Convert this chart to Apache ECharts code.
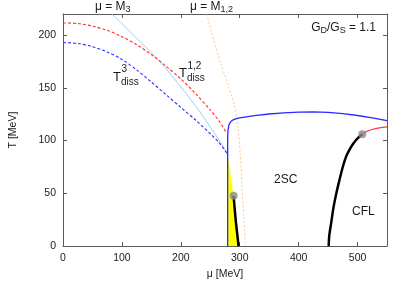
<!DOCTYPE html>
<html>
<head>
<meta charset="utf-8">
<script src="https://cdn.jsdelivr.net/npm/echarts@6/dist/echarts.min.js"></script>
<style>html,body{margin:0;padding:0;background:#fff;}#c{width:407px;height:285px;}</style>
</head>
<body>
<div id="c"></div>
<script>
// ---- data (mu [MeV], T [MeV]) ----
const xTicks = [0, 100, 200, 300, 400, 500];
const yTicks = [0, 50, 100, 150, 200];

const tDiss12 = [[0,211.5],[25,211],[50,208.5],[75,204.5],[100,198.5],[125,191],[150,181.5],[175,170.5],[200,158.5],[225,144.5],[250,129],[265,118.5],[278,107]];
const tDiss3 = [[0,193],[25,192],[50,189],[75,184],[100,177],[125,167],[150,155.5],[175,143.5],[200,131.5],[225,119.5],[250,106.5],[265,98],[279.5,87]];
const muM3 = [[83,220],[100,211],[125,197],[150,183.5],[175,168],[200,151],[225,133],[250,113],[265,100.5],[279.5,87]];
const muM12 = [[244,220],[256,195],[268,173],[280,153],[290,135],[297,113],[301,85],[304,55],[307,28],[309.5,0]];
const boundary2SC = [[279.5,0],[279.5,60],[279.5,100],[279.7,106],[280.2,110],[281.5,114.5],[284,117.5],[288,119.5],[294,120.8],[300,121.5],[325,123.6],[350,125.2],[375,126.3],[400,127],[425,127.3],[450,126.8],[475,125.6],[500,123.8],[525,121.6],[550,119]];
const redSolid = [[508,106],[515,108.5],[525,110.5],[537,112],[550,113]];
const cflLine = [[451,0],[452,10],[455,21],[459,36],[464,50],[469,62],[473,71],[477,79],[481,85.5],[486,91],[492,96.5],[499,101.5],[508,106]];
const smallBlack = [[289.6,47.7],[291.5,35],[294,20],[296.5,8],[298,0]];
const yellowPoly = [[279.5,0],[279.5,86],[282,78],[285,66],[289.6,47.7],[291.5,35],[294,20],[296.5,8],[298,0]];
const criticalPts = [[289.6,47.7],[508,106]];

const FONT = 'Liberation Sans, Arial, Helvetica, sans-serif';
const TXT = '#1a1a1a';
const AX = '#5a5a5a';

const chart = echarts.init(document.getElementById('c'), null, {renderer: 'canvas'});

function axisCommon(showLabel, ticks) {
  return {
    type: 'value',
    axisLine: {show: true, onZero: false, lineStyle: {color: AX, width: 1}},
    axisTick: {show: true, inside: true, length: 4, lineStyle: {color: AX, width: 1}},
    splitLine: {show: false},
    axisLabel: {
      show: showLabel, color: TXT, fontSize: 10.5, fontFamily: FONT, margin: 7,
      showMaxLabel: false,
      formatter: v => ticks.indexOf(v) >= 0 ? String(v) : ''
    }
  };
}

const line = (data, color, width, type, z) => ({
  type: 'line', data, showSymbol: false, symbol: 'none', smooth: 0.3, z: z,
  lineStyle: {color, width, type}, silent: true, animation: false,
  xAxisIndex: 0, yAxisIndex: 0
});

function rt(size) { return {fontSize: size, fontFamily: FONT, fill: TXT}; }

const option = {
  backgroundColor: '#fff',
  animation: false,
  grid: {left: 60, right: 20, top: 14, bottom: 36, containLabel: false},
  xAxis: [
    Object.assign(axisCommon(true, xTicks), {min: 0, max: 550, interval: 100, position: 'bottom',
      name: 'μ [MeV]', nameLocation: 'middle', nameGap: 22,
      nameTextStyle: {color: TXT, fontSize: 10.5, fontFamily: FONT}}),
    Object.assign(axisCommon(false, xTicks), {min: 0, max: 550, interval: 100, position: 'top'})
  ],
  yAxis: [
    Object.assign(axisCommon(true, yTicks), {min: 0, max: 220, interval: 50, position: 'left',
      name: 'T [MeV]', nameLocation: 'middle', nameGap: 44, nameRotate: 90,
      nameTextStyle: {color: TXT, fontSize: 10.5, fontFamily: FONT}}),
    Object.assign(axisCommon(false, yTicks), {min: 0, max: 220, interval: 50, position: 'right'})
  ],
  series: [
    {
      type: 'custom', z: 1, silent: true, xAxisIndex: 0, yAxisIndex: 0,
      data: [0],
      renderItem: function (params, api) {
        const pts = yellowPoly.map(p => api.coord(p));
        return {type: 'polygon', shape: {points: pts}, style: {fill: '#ffff00', stroke: null}};
      }
    },
    line(muM12, '#ffb870', 0.8, [2, 2], 2),
    line(muM3, '#8ccaf5', 0.9, 'solid', 3),
    line(tDiss12, '#ff3030', 1.1, [3, 2], 4),
    line(tDiss3, '#3030ff', 1.1, [3, 2], 4),
    Object.assign(line(boundary2SC, '#2a2aff', 1.3, 'solid', 5), {smooth: false}),
    line(redSolid, '#ff3a3a', 1.2, 'solid', 5),
    line(cflLine, '#000000', 2.5, 'solid', 6),
    line(smallBlack, '#000000', 2.5, 'solid', 6),
    {
      type: 'scatter', data: criticalPts, symbol: 'circle', symbolSize: 8, z: 7,
      itemStyle: {color: '#8a8a8a'}, silent: true, xAxisIndex: 0, yAxisIndex: 0
    }
  ],
  graphic: [
    {type: 'text', x: 95, y: 7, z: 100, style: {text: '{b|μ = M}{s|3}', verticalAlign: 'middle', align: 'left',
      rich: {b: Object.assign(rt(12), {lineHeight: 15}), s: Object.assign(rt(9), {verticalAlign: 'bottom'})}}},
    {type: 'text', x: 190, y: 7, z: 100, style: {text: '{b|μ = M}{s|1,2}', verticalAlign: 'middle', align: 'left',
      rich: {b: Object.assign(rt(12), {lineHeight: 15}), s: Object.assign(rt(9), {verticalAlign: 'bottom'})}}},
    {type: 'text', x: 376, y: 28, z: 100, style: {text: '{b|G}{s|D}{b|/G}{s|S}{b| = 1.1}', verticalAlign: 'middle', align: 'right',
      rich: {b: Object.assign(rt(12), {lineHeight: 15}), s: Object.assign(rt(9), {verticalAlign: 'bottom'})}}},
    // T^3_diss
    {type: 'text', x: 113, y: 77, z: 100, style: Object.assign(rt(13), {text: 'T', verticalAlign: 'middle', align: 'left'})},
    {type: 'text', x: 121.5, y: 69.5, z: 100, style: Object.assign(rt(10), {text: '3', verticalAlign: 'middle', align: 'left'})},
    {type: 'text', x: 121, y: 82.5, z: 100, style: Object.assign(rt(10), {text: 'diss', verticalAlign: 'middle', align: 'left'})},
    // T^{1,2}_diss
    {type: 'text', x: 179, y: 73, z: 100, style: Object.assign(rt(13), {text: 'T', verticalAlign: 'middle', align: 'left'})},
    {type: 'text', x: 187.5, y: 66.5, z: 100, style: Object.assign(rt(10), {text: '1,2', verticalAlign: 'middle', align: 'left'})},
    {type: 'text', x: 187, y: 78.5, z: 100, style: Object.assign(rt(10), {text: 'diss', verticalAlign: 'middle', align: 'left'})},
    {type: 'text', x: 274, y: 180, z: 100, style: Object.assign(rt(12), {text: '2SC', verticalAlign: 'middle', align: 'left'})},
    {type: 'text', x: 352, y: 212, z: 100, style: Object.assign(rt(12), {text: 'CFL', verticalAlign: 'middle', align: 'left'})}
  ]
};
chart.setOption(option);
</script>
</body>
</html>
